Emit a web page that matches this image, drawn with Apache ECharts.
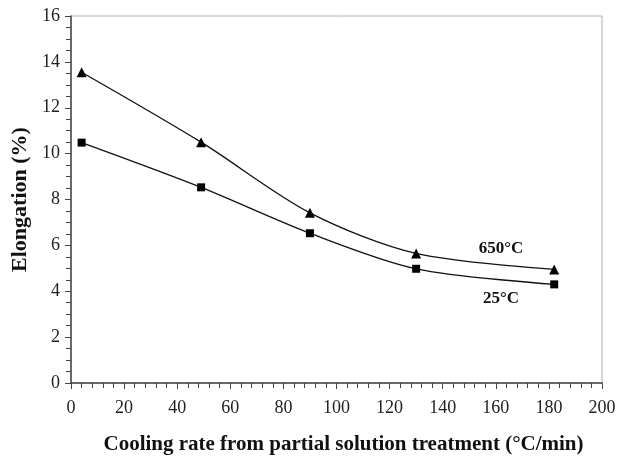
<!DOCTYPE html>
<html>
<head>
<meta charset="utf-8">
<script src="https://cdn.jsdelivr.net/npm/echarts@6/dist/echarts.min.js"></script>
<style>
  html, body { margin: 0; padding: 0; background: #fff; }
  #chart { width: 618px; height: 457px; }
</style>
</head>
<body>
<div id="chart"></div>
<script>
var coolingRate = [4, 49, 90, 130, 182];
var elong650 = [13.55, 10.5, 7.42, 5.65, 4.95];
var elong25 = [10.48, 8.53, 6.53, 4.98, 4.3];
var label650 = '650°C';
var label25 = '25°C';

var dom = document.getElementById('chart');
var myChart = echarts.init(dom);

function pairs(xs, ys) {
  var out = [];
  for (var i = 0; i < xs.length; i++) out.push([xs[i], ys[i]]);
  return out;
}

var serif = '"Liberation Serif", "DejaVu Serif", serif';

// text tag next to a curve, placed in data coords
function tag(text, x, y) {
  return {
    symbol: 'circle',
    symbolSize: 1,
    itemStyle: { color: 'rgba(0,0,0,0)' },
    label: {
      show: true, position: 'inside', formatter: text,
      fontFamily: serif, fontWeight: 'bold', fontSize: 17, color: '#111'
    },
    data: [{ coord: [x, y] }]
  };
}

var option = {
  animation: false,
  grid: {
    left: 71, right: 16, top: 16, bottom: 74,
    outerBoundsMode: 'none',
    show: true,
    borderColor: '#b0b0b0',
    borderWidth: 1
  },
  xAxis: {
    type: 'value',
    min: 0, max: 200, interval: 20,
    name: 'Cooling rate from partial solution treatment (°C/min)',
    nameLocation: 'middle',
    nameGap: 51,
    nameTextStyle: { fontFamily: serif, fontWeight: 'bold', fontSize: 21, color: '#111', padding: [0, 0, 0, 14] },
    axisLine: { lineStyle: { color: '#444', width: 1.5 } },
    axisTick: { length: 6, lineStyle: { color: '#444' } },
    minorTick: { show: true, splitNumber: 5, length: 5, lineStyle: { color: '#444' } },
    axisLabel: { fontFamily: serif, fontSize: 18, color: '#222', margin: 16 },
    splitLine: { show: false }
  },
  yAxis: {
    type: 'value',
    min: 0, max: 16, interval: 2,
    name: 'Elongation (%)',
    nameLocation: 'middle',
    nameGap: 40,
    nameTextStyle: { fontFamily: serif, fontWeight: 'bold', fontSize: 22, color: '#111' },
    axisLine: { show: true, lineStyle: { color: '#444', width: 1.5 } },
    axisTick: { show: true, length: 6, lineStyle: { color: '#444' } },
    minorTick: { show: true, splitNumber: 4, length: 5, lineStyle: { color: '#444' } },
    axisLabel: { fontFamily: serif, fontSize: 18, color: '#222', margin: 11 },
    splitLine: { show: false }
  },
  series: [
    {
      name: label650,
      type: 'line',
      smooth: 0.3,
      symbol: 'triangle',
      symbolSize: 10,
      itemStyle: { color: '#000' },
      lineStyle: { color: '#111', width: 1.3 },
      data: pairs(coolingRate, elong650),
      markPoint: tag(label650, 162, 5.88)
    },
    {
      name: label25,
      type: 'line',
      smooth: 0.3,
      symbol: 'rect',
      symbolSize: 8,
      itemStyle: { color: '#000' },
      lineStyle: { color: '#111', width: 1.3 },
      data: pairs(coolingRate, elong25),
      markPoint: tag(label25, 162, 3.66)
    }
  ]
};

myChart.setOption(option, true);
</script>
</body>
</html>
